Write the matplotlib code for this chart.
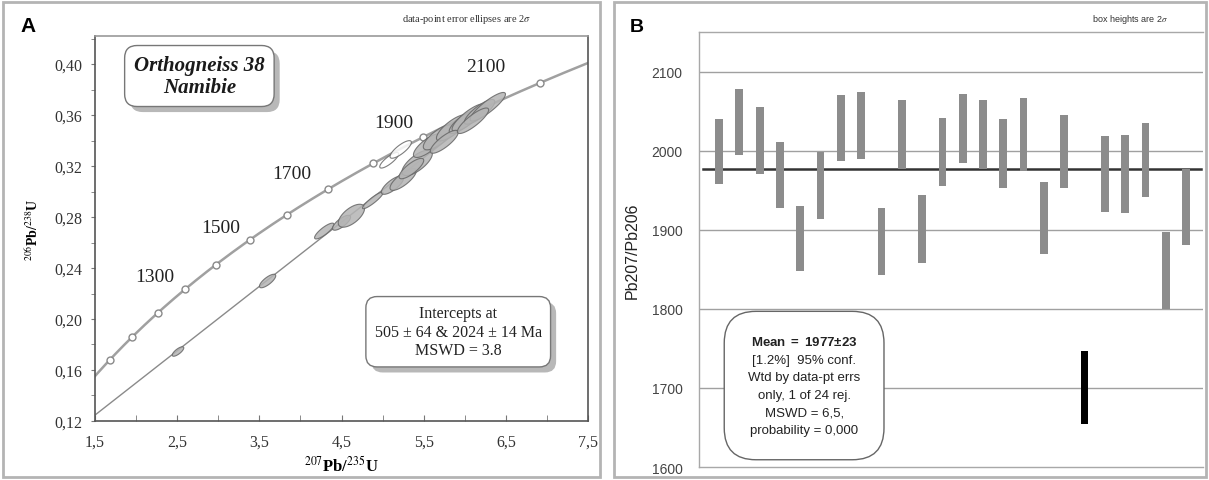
import numpy as np
import matplotlib
matplotlib.use("Agg")
import matplotlib.pyplot as plt
from matplotlib.patches import Rectangle
import matplotlib.patheffects as pe

plt.rcParams['mathtext.fontset'] = 'stix'
plt.rcParams['mathtext.rm'] = 'Liberation Sans'
plt.rcParams['mathtext.bf'] = 'Liberation Sans:bold'
plt.rcParams['mathtext.it'] = 'Liberation Sans:italic'
SERIF = 'Liberation Serif'
SANS = 'Liberation Sans'

# ---- panel A data: concordia ages (Ma) and analyses (x, 2s, y, 2s, rho, filled)
l238 = 1.55125e-4   # per Ma
l235 = 9.8485e-4
marker_ages = [1000, 1100, 1200, 1300, 1400, 1500, 1600, 1700, 1800, 1900, 2000, 2100]
age_labels = ['1300', '1500', '1700', '1900', '2100']
age_label_x = [2.23, 3.03, 3.90, 5.14, 6.26]
age_label_y = [0.2337, 0.272, 0.314, 0.354, 0.398]
lower_age, upper_age = 505, 2024

pb207_u235 = [2.51, 3.60, 4.29, 4.50, 4.62, 4.88, 5.12, 5.25, 5.42, 5.55, 5.68,
              5.85, 5.98, 6.05, 6.18, 6.28, 5.35, 5.75, 6.10, 5.08, 5.22]
err_x = [0.070, 0.099, 0.118, 0.110, 0.160, 0.125, 0.135, 0.160, 0.185, 0.175, 0.185,
         0.195, 0.170, 0.205, 0.185, 0.215, 0.150, 0.170, 0.190, 0.115, 0.130]
pb206_u238 = [0.1745, 0.2298, 0.2690, 0.2755, 0.2810, 0.2930, 0.3050, 0.3095, 0.3225,
              0.3360, 0.3425, 0.3500, 0.3545, 0.3580, 0.3625, 0.3665, 0.3180, 0.3390,
              0.3555, 0.3245, 0.3330]
err_y = [0.00372, 0.0053, 0.0062, 0.00586, 0.0090, 0.0065, 0.0072, 0.0086, 0.0100,
         0.0093, 0.0098, 0.0103, 0.0090, 0.0108, 0.0097, 0.0112, 0.0080, 0.0090,
         0.0100, 0.0061, 0.0069]
rho = [0.76, 0.77, 0.835, 0.756, 0.63, 0.91, 0.756, 0.777, 0.714, 0.764, 0.753,
       0.78, 0.804, 0.833, 0.827, 0.876, 0.80, 0.82, 0.85, 0.826, 0.807]
filled = [True] * 19 + [False, False]

# ---- panel B data: weighted mean boxes (Pb207/Pb206 ages, 2s box limits)
box_low = [1958, 1995, 1970, 1927, 1848, 1914, 1987, 1989, 1843, 1977, 1858, 1955,
           1984, 1977, 1953, 1974, 1869, 1953, 1654, 1923, 1921, 1942, 1800, 1881]
box_high = [2040, 2078, 2055, 2011, 1930, 1998, 2070, 2074, 1927, 2064, 1944, 2041,
            2071, 2064, 2040, 2067, 1960, 2045, 1747, 2019, 2020, 2035, 1897, 1977]
rejected = [19]
mean_age = 1977

fig = plt.figure(figsize=(12.09, 4.81), dpi=100)

# panel frames
for x0, w in [(3, 597), (614, 592)]:
    fig.patches.append(Rectangle((x0 / 1209, 3 / 481), w / 1209, 475 / 481,
                                 transform=fig.transFigure, fill=False,
                                 ec='#b4b4b4', lw=2))

shadow_fx = [pe.SimplePatchShadow(offset=(4, -4), shadow_rgbFace='#b8b8b8', alpha=1), pe.Normal()]

# ================= panel A =================
ax = fig.add_axes([0.0786, 0.1227, 0.4078, 0.8004])
t = np.linspace(900, 2400, 400)
ax.plot(np.exp(l235 * t) - 1, np.exp(l238 * t) - 1, color='#a0a0a0', lw=1.8, zorder=2)
ta = np.array(marker_ages)
ax.plot(np.exp(l235 * ta) - 1, np.exp(l238 * ta) - 1, 'o', ms=5, mfc='white',
        mec='#8a8a8a', mew=1, zorder=3)

td = np.array([lower_age, upper_age])
ax.plot(np.exp(l235 * td) - 1, np.exp(l238 * td) - 1, color='#8a8a8a', lw=1, zorder=2)

s = np.linspace(0, 2 * np.pi, 80)
for i in range(len(pb207_u235)):
    sx, sy, r = err_x[i], err_y[i], rho[i]
    ex = pb207_u235[i] + sx * np.cos(s)
    ey = pb206_u238[i] + sy * (r * np.cos(s) + np.sqrt(1 - r * r) * np.sin(s))
    ax.fill(ex, ey, fc='#b4b4b4' if filled[i] else 'white', ec='#666666', lw=0.8,
            alpha=0.85, zorder=4)

for lab, lx, ly in zip(age_labels, age_label_x, age_label_y):
    ax.text(lx, ly, lab, family=SERIF, fontsize=14, ha='center', va='center', color='#222222')

ax.set_xlim(1.5, 7.5)
ax.set_ylim(0.12, 0.422)
ax.set_xticks(np.arange(1.5, 7.51, 1.0))
ax.set_xticks(np.arange(1.5, 7.51, 0.5), minor=True)
ax.set_yticks(np.arange(0.12, 0.401, 0.04))
ax.set_yticks(np.arange(0.12, 0.421, 0.02), minor=True)
ax.set_xticklabels([f'{v:.1f}'.replace('.', ',') for v in np.arange(1.5, 7.51, 1.0)],
                   family=SERIF, fontsize=11.5, color='#333333')
ax.set_yticklabels([f'{v:.2f}'.replace('.', ',') for v in np.arange(0.12, 0.401, 0.04)],
                   family=SERIF, fontsize=11.5, color='#333333')
ax.tick_params(axis='x', which='both', direction='in', length=4, color='#777777', pad=9)
ax.tick_params(axis='y', which='both', direction='out', length=3, color='#777777', pad=6)
for sp in ax.spines.values():
    sp.set_color('#555555')
    sp.set_linewidth(1.2)
ax.spines['top'].set_color('#999999')
ax.set_xlabel(r'$^{207}$Pb/$^{235}$U', family=SERIF, fontsize=12, fontweight='bold',
              labelpad=4, math_fontfamily='stix')
ax.set_ylabel(r'$^{206}$Pb/$^{238}$U', family=SERIF, fontsize=10, fontweight='bold',
              labelpad=10, math_fontfamily='stix')

title = ax.text(2.77, 0.3906, 'Orthogneiss 38\nNamibie', family=SERIF, fontsize=15,
                fontweight='bold', style='italic', ha='center', va='center', color='#1a1a1a',
                linespacing=1.15,
                bbox=dict(boxstyle='round,pad=0.45,rounding_size=0.6', fc='white',
                          ec='#777777', lw=1))
title.get_bbox_patch().set_path_effects(shadow_fx)
icpt = ax.text(5.92, 0.19, f'Intercepts at\n{lower_age} ± 64 & {upper_age} ± 14 Ma\nMSWD = 3.8',
               family=SERIF, fontsize=11.5, ha='center', va='center', color='#222222',
               linespacing=1.2,
               bbox=dict(boxstyle='round,pad=0.55,rounding_size=0.7', fc='white',
                         ec='#777777', lw=1))
icpt.get_bbox_patch().set_path_effects(shadow_fx)

fig.text(28 / 1209, 1 - 27 / 481, 'A', family=SANS, fontsize=15, fontweight='bold',
         ha='center', va='center')
fig.text(467 / 1209, 1 - 20 / 481, r'data-point error ellipses are 2$\it{\sigma}$',
         family=SERIF, fontsize=7.5, ha='center', va='center', color='#333333',
         math_fontfamily='stix')

# ================= panel B =================
bx = fig.add_axes([0.5782, 0.027, 0.4169, 0.9044])
pos = np.arange(1, len(box_low) + 1)
for yv in [1700, 1800, 1900, 2000, 2100]:
    bx.axhline(yv, color='#a0a0a0', lw=1, zorder=1)
cols = ['black' if i in rejected else '#8c8c8c' for i in pos]
bx.bar(pos, np.array(box_high) - np.array(box_low), bottom=box_low, width=0.38,
       color=cols, zorder=3)
bx.plot([0.2, 24.75], [mean_age, mean_age], color='#333333', lw=1.8, zorder=2)

bx.set_xlim(0.015, 24.84)
bx.set_ylim(1600, 2150)
bx.set_xticks([])
bx.set_yticks([1600, 1700, 1800, 1900, 2000, 2100])
bx.set_yticklabels(['1600', '1700', '1800', '1900', '2000', '2100'], family=SANS,
                   fontsize=10, color='#444444')
bx.tick_params(axis='y', length=0, pad=12)
for sp in bx.spines.values():
    sp.set_color('#a8a8a8')
    sp.set_linewidth(1)
bx.spines['right'].set_visible(False)
bx.set_ylabel('Pb207/Pb206', family=SANS, fontsize=11.5, color='#222222', labelpad=8)

mtxt = '\n'.join([r'$\mathbf{Mean\ =\ ' + str(mean_age) + r'±23}$', '[1.2%]  95% conf.',
                  'Wtd by data-pt errs', 'only, 1 of 24 rej.', 'MSWD = 6,5,',
                  'probability = 0,000'])
bx.text(5.19, 1703, mtxt, family=SANS, fontsize=9.5, ha='center', va='center',
        color='#222222', linespacing=1.62, math_fontfamily='custom', zorder=5,
        bbox=dict(boxstyle='round,pad=1.8,rounding_size=2.4', fc='white', ec='#666666', lw=1))

fig.text(637 / 1209, 1 - 27 / 481, 'B', family=SANS, fontsize=14, fontweight='bold',
         ha='center', va='center')
fig.text(1130 / 1209, 1 - 20 / 481, r'box heights are 2$\it{\sigma}$', family=SANS,
         fontsize=6.5, ha='center', va='center', color='#333333', math_fontfamily='stix')

fig.savefig('out.png', dpi=100)
